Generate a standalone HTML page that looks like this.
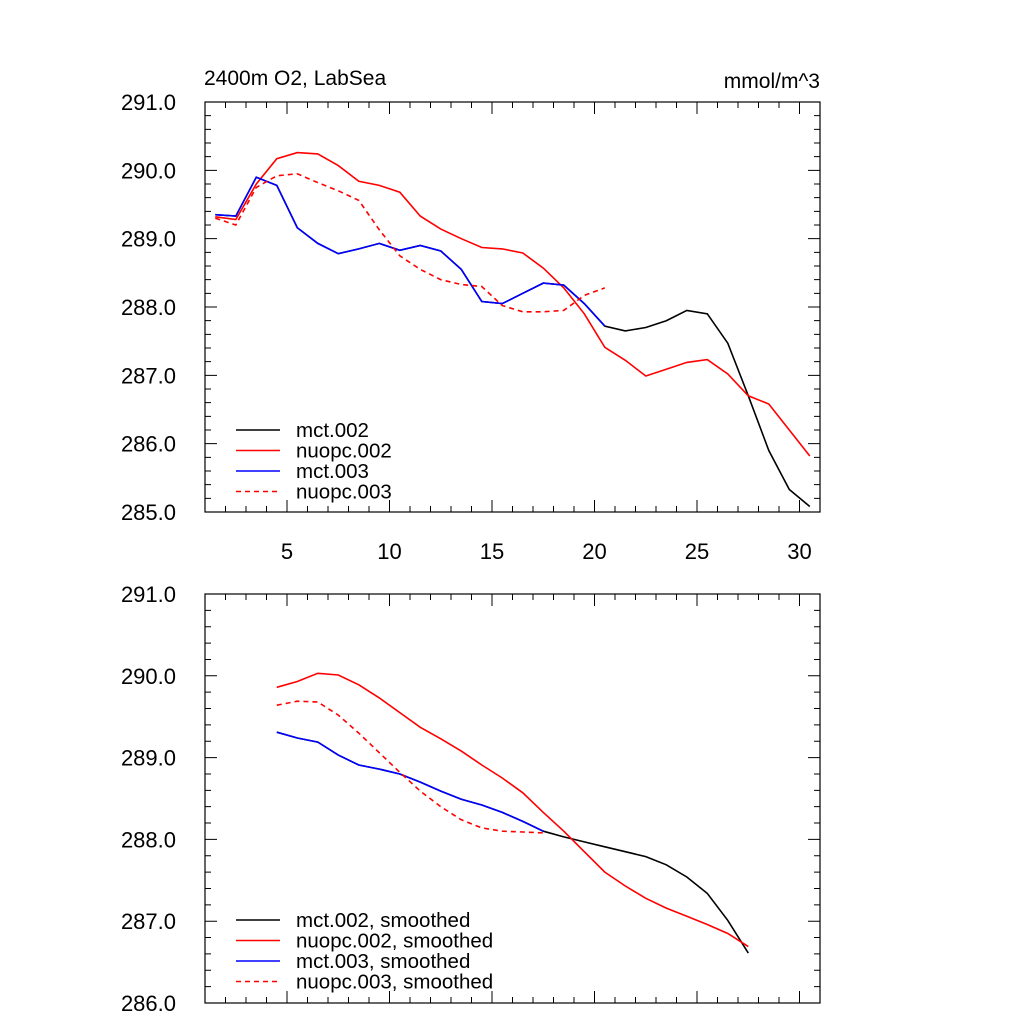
<!DOCTYPE html>
<html><head><meta charset="utf-8"><style>
html,body{margin:0;padding:0;background:#fff}
svg{display:block;font-family:"Liberation Sans",sans-serif}
</style></head><body>
<svg id="chart" width="1024" height="1024" xmlns="http://www.w3.org/2000/svg">
<text x="204" y="85" font-size="21">2400m O2, LabSea</text>
<text x="820" y="88" font-size="21" text-anchor="end">mmol/m^3</text>
</svg>
<script>
const xTop = [1.5,2.5,3.5,4.5,5.5,6.5,7.5,8.5,9.5,10.5,11.5,12.5,13.5,14.5,15.5,16.5,17.5,18.5,19.5,20.5,21.5,22.5,23.5,24.5,25.5,26.5,27.5,28.5,29.5,30.5];
const mct002 = [289.35,289.33,289.9,289.78,289.16,288.93,288.78,288.85,288.93,288.83,288.9,288.82,288.55,288.08,288.05,288.2,288.35,288.32,288.05,287.72,287.65,287.7,287.8,287.95,287.9,287.47,286.7,285.9,285.33,285.08];
const nuopc002 = [289.32,289.28,289.8,290.17,290.26,290.24,290.07,289.84,289.78,289.68,289.33,289.14,289.0,288.87,288.85,288.79,288.57,288.28,287.9,287.41,287.22,286.99,287.09,287.19,287.23,287.02,286.7,286.58,286.2,285.82];
const mct003 = [289.35,289.33,289.9,289.78,289.16,288.93,288.78,288.85,288.93,288.83,288.9,288.82,288.55,288.08,288.05,288.2,288.35,288.32,288.05,287.72];
const nuopc003 = [289.3,289.2,289.75,289.92,289.95,289.82,289.7,289.56,289.13,288.75,288.55,288.4,288.33,288.3,288.02,287.93,287.93,287.95,288.17,288.28];
const xBot = [4.5,5.5,6.5,7.5,8.5,9.5,10.5,11.5,12.5,13.5,14.5,15.5,16.5,17.5,18.5,19.5,20.5,21.5,22.5,23.5,24.5,25.5,26.5,27.5];
const mct002s = [289.31,289.24,289.19,289.03,288.91,288.86,288.8,288.7,288.59,288.49,288.42,288.33,288.22,288.1,288.03,287.97,287.91,287.85,287.79,287.69,287.54,287.34,287.01,286.61];
const nuopc002s = [289.86,289.93,290.03,290.01,289.89,289.73,289.55,289.37,289.23,289.08,288.91,288.75,288.57,288.33,288.1,287.85,287.6,287.43,287.28,287.16,287.06,286.96,286.85,286.69];
const mct003s = [289.31,289.24,289.19,289.03,288.91,288.86,288.8,288.7,288.59,288.49,288.42,288.33,288.22,288.1];
const nuopc003s = [289.64,289.69,289.68,289.52,289.3,289.06,288.82,288.59,288.4,288.24,288.14,288.1,288.09,288.08];
const xTicks = [5,10,15,20,25,30];
const yTicksTop = [285,286,287,288,289,290,291];
const yTicksBot = [286,287,288,289,290,291];

const svg = document.getElementById('chart');
const NS = 'http://www.w3.org/2000/svg';
function mk(tag, attrs, parent){const e=document.createElementNS(NS,tag);for(const k in attrs)e.setAttribute(k,attrs[k]);(parent||svg).appendChild(e);return e;}

function panel(name, top, bottom, ymin, ymax, yTicks, showX, series, legend, legendY){
  const L=205, R=820;
  const sx = v => L + (v-1)/(31-1)*(R-L);
  const sy = v => bottom - (v-ymin)/(ymax-ymin)*(bottom-top);
  const g = mk('g',{});
  
  
  let d='';
  for(let x=2;x<=31;x++){const p=sx(x);const len=(x%5===0)?12:6;d+=`M${p} ${bottom}V${bottom-len}M${p} ${top}V${top+len}`;}
  const ystep=0.2;
  for(let v=ymin;v<=ymax+1e-6;v+=ystep){const p=sy(v);const maj=Math.abs(v-Math.round(v))<1e-6;const len=maj?12:6;d+=`M${L} ${p}H${L+len}M${R} ${p}H${R-len}`;}
  const ticks = mk('path',{d:d,stroke:'#000','stroke-width':1,fill:'none'},g);
  
  
  yTicks.forEach(v=>{const t=mk('text',{x:L-29,y:sy(v)+8,'font-size':22,'text-anchor':'end'},g);t.textContent=v.toFixed(1);
    
    });
  if(showX) xTicks.forEach(v=>{const t=mk('text',{x:sx(v),y:bottom+47,'font-size':22,'text-anchor':'middle'},g);t.textContent=v;
    
    });
  series.forEach(s=>{
    const pts=s.y.map((v,i)=>sx(s.x[i]).toFixed(1)+','+sy(v).toFixed(1)).join(' ');
    const pl=mk('polyline',{points:pts,fill:'none',stroke:s.c,'stroke-width':1.6,'stroke-dasharray':s.dash?'5,4':'none'},g);
    
    
  });
  legend.forEach((s,i)=>{
    const y=legendY+i*20.5;
    const ln=mk('line',{x1:236,x2:280,y1:y,y2:y,stroke:s.c,'stroke-width':1.6,'stroke-dasharray':s.dash?'5,4':'none'},g);
    
    
    const t=mk('text',{x:296,y:y+7,'font-size':20.5},g);t.textContent=s.label;
    
    
  });
  const fr=mk('rect',{x:L,y:top,width:R-L,height:bottom-top,fill:'none',stroke:'#000','stroke-width':1.2},g);
  
  
}
const topSeries=[
 {name:'mct002-line',x:xTop,y:mct002,c:'#000',label:'mct.002'},
 {name:'nuopc002-line',x:xTop,y:nuopc002,c:'#f00',label:'nuopc.002'},
 {name:'mct003-line',x:xTop,y:mct003,c:'#00f',label:'mct.003'},
 {name:'nuopc003-line',x:xTop,y:nuopc003,c:'#f00',dash:true,label:'nuopc.003'}];
panel('top-panel',102,512,285,291,yTicksTop,true,topSeries,topSeries,430);
const botSeries=[
 {name:'mct002-smoothed-line',x:xBot,y:mct002s,c:'#000',label:'mct.002, smoothed'},
 {name:'nuopc002-smoothed-line',x:xBot,y:nuopc002s,c:'#f00',label:'nuopc.002, smoothed'},
 {name:'mct003-smoothed-line',x:xBot,y:mct003s,c:'#00f',label:'mct.003, smoothed'},
 {name:'nuopc003-smoothed-line',x:xBot,y:nuopc003s,c:'#f00',dash:true,label:'nuopc.003, smoothed'}];
panel('bottom-panel',594,1003,286,291,yTicksBot,false,botSeries,botSeries,920);
</script>
</body></html>
